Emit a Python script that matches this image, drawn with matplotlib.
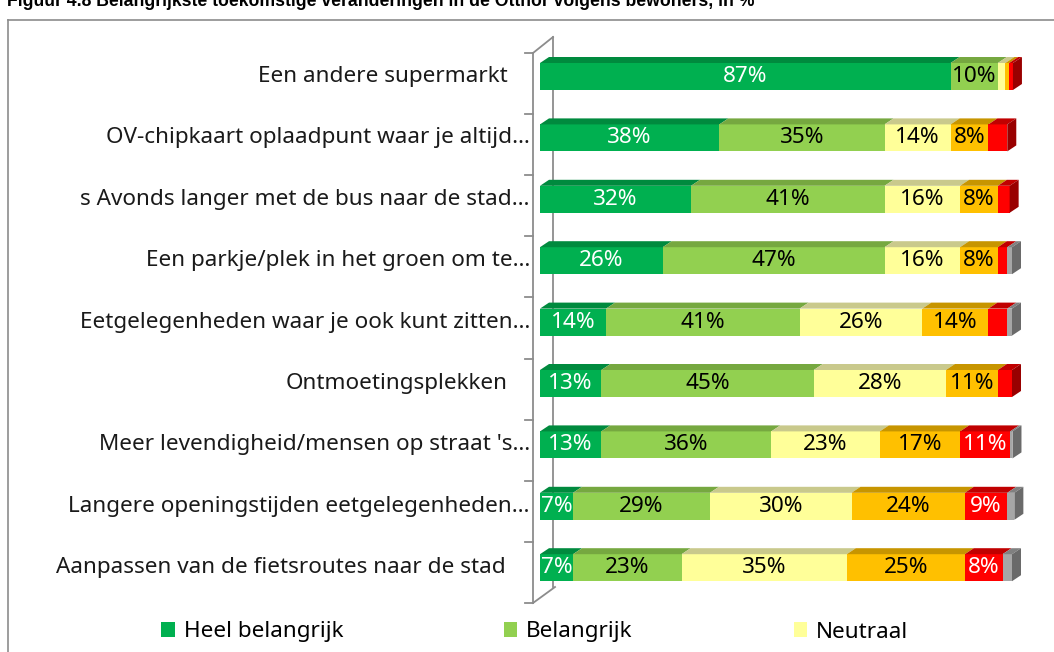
import matplotlib
matplotlib.use("Agg")
import matplotlib.pyplot as plt
from matplotlib.patches import Polygon, Patch
from matplotlib.lines import Line2D

W, H = 1054, 652

categories = [
    "Een andere supermarkt",
    "OV-chipkaart oplaadpunt waar je altijd…",
    "s Avonds langer met de bus naar de stad…",
    "Een parkje/plek in het groen om te…",
    "Eetgelegenheden waar je ook kunt zitten…",
    "Ontmoetingsplekken",
    "Meer levendigheid/mensen op straat 's…",
    "Langere openingstijden eetgelegenheden…",
    "Aanpassen van de fietsroutes naar de stad",
]
series_names = ["Heel belangrijk", "Belangrijk", "Neutraal", "Onbelangrijk",
                "Heel onbelangrijk", "Weet niet"]
heel_belangrijk = [87, 38, 32, 26, 14, 13, 13, 7, 7]
belangrijk = [10, 35, 41, 47, 41, 45, 36, 29, 23]
neutraal = [1.6, 14, 16, 16, 26, 28, 23, 30, 35]
onbelangrijk = [0.8, 8, 8, 8, 14, 11, 17, 24, 25]
heel_onbelangrijk = [0.8, 4, 2.5, 2, 4, 3, 10.6, 9, 8]
weet_niet = [0, 0, 0, 1, 1, 0, 0.5, 1.5, 2]
series = [heel_belangrijk, belangrijk, neutraal, onbelangrijk, heel_onbelangrijk, weet_niet]

# extra right padding (pixels) of each category label, as in the reference
label_pad = [32, 10, 10, 10, 10, 32, 10, 10, 34]

front = ["#00B050", "#92D050", "#FFFF99", "#FFC000", "#FF0000", "#A6A6A6"]
top = ["#008A3E", "#76A840", "#C9C98C", "#C79500", "#C00000", "#808080"]
side = ["#006E30", "#5E8A30", "#A8A870", "#A07800", "#990000", "#6A6A6A"]
label_colors = ["white", "black", "black", "black", "white", "black"]

plt.rcParams['font.family'] = ['Noto Sans', 'DejaVu Sans']
FS = 16.2

fig = plt.figure(figsize=(W / 100, H / 100), dpi=100)

def fx(x):
    return x / W

def fy(y):
    return 1 - y / H

# axes geometry (pixels, top-left origin)
ax_left, ax_right = 540, 1012
row0, row_step = 76.5, 61.4
ax_top = row0 - 0.5 * row_step
ax_bot = row0 + 8.5 * row_step
ax = fig.add_axes([fx(ax_left), fy(ax_bot), fx(ax_right - ax_left), (ax_bot - ax_top) / H])
ax.set_xlim(0, 100)
ax.set_ylim(8.5, -0.5)
ax.axis("off")

n = len(categories)
ypos = list(range(n))
bar_h = 27 / row_step
dx = 9 / ((ax_right - ax_left) / 100)
dy = 6 / row_step

# chart walls (decoration)
wall = "#8C8C8C"
bnd_top, bnd_step = 53, 61.1
fig.add_artist(Line2D([fx(553), fx(553)], [fy(37), fy(587)], color=wall, lw=1.3, zorder=0))
fig.add_artist(Line2D([fx(533), fx(553)], [fy(53), fy(37)], color=wall, lw=1.3, zorder=0))
fig.add_artist(Line2D([fx(533), fx(555)], [fy(603), fy(587)], color=wall, lw=1.3, zorder=0))
fig.add_artist(Line2D([fx(533), fx(533)], [fy(53), fy(603)], color=wall, lw=1.3, zorder=5))
for k in range(n + 1):
    yy = bnd_top + k * bnd_step
    fig.add_artist(Line2D([fx(525), fx(533)], [fy(yy), fy(yy)], color=wall, lw=1.3, zorder=5))

left = [0.0] * n
for s, vals in enumerate(series):
    ax.barh(ypos, vals, left=left, height=bar_h, color=front[s], edgecolor="none",
            zorder=3, clip_on=False)
    for i in range(n):
        v = vals[i]
        if v <= 0:
            continue
        l = left[i]
        t = ypos[i] - bar_h / 2
        ax.add_patch(Polygon([(l, t), (l + v, t), (l + v + dx, t - dy), (l + dx, t - dy)],
                             closed=True, facecolor=top[s], edgecolor="none", zorder=3,
                             clip_on=False))
        if v >= 5:
            ax.text(l + v / 2, ypos[i], f"{round(v)}%", ha="center", va="center",
                    color=label_colors[s], fontsize=FS, zorder=6)
    left = [left[i] + vals[i] for i in range(n)]

# right side faces on last segment
for i in range(n):
    last = max(s for s in range(len(series)) if series[s][i] > 0)
    r = left[i]
    t = ypos[i] - bar_h / 2
    b = ypos[i] + bar_h / 2
    ax.add_patch(Polygon([(r, t), (r + dx, t - dy), (r + dx, b - dy), (r, b)],
                         closed=True, facecolor=side[last], edgecolor="none", zorder=3,
                         clip_on=False))

# category labels
for i, c in enumerate(categories):
    ax.annotate(c, xy=(0, ypos[i]), xycoords="data", xytext=(-label_pad[i], 0),
                textcoords="offset pixels", ha="right", va="center", fontsize=FS,
                color="#1a1a1a", annotation_clip=False)

# legend (only first three entries visible)
handles = [Patch(facecolor=front[s], edgecolor="none") for s in range(3)]
fig.legend(handles, series_names[:3], loc="center left",
           bbox_to_anchor=(fx(161), fy(632)), ncol=3, frameon=False, fontsize=FS,
           handlelength=0.6, handleheight=0.6, handletextpad=0.4,
           columnspacing=7.15, borderpad=0, borderaxespad=0)

# outer border and cut-off title
fig.add_artist(Line2D([fx(8), fx(8)], [fy(20), 0], color="#8C8C8C", lw=1.2))
fig.add_artist(Line2D([fx(8), 1], [fy(20), fy(20)], color="#8C8C8C", lw=1.2))
fig.text(fx(7), fy(6), "Figuur 4.8 Belangrijkste toekomstige veranderingen in de Otthor volgens bewoners, in %",
         fontsize=12.7, fontweight="bold", family="Liberation Sans", va="baseline", ha="left")

fig.savefig("out.png", dpi=100)
